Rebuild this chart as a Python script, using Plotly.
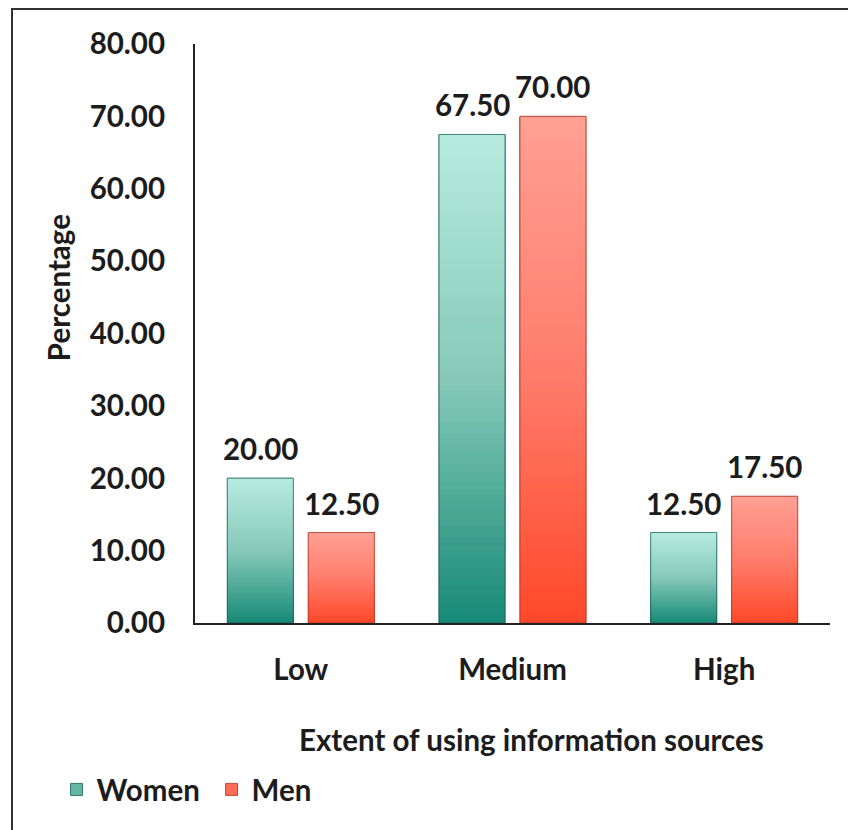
import plotly.graph_objects as go

# ---- data -------------------------------------------------------------
categories = ["Low", "Medium", "High"]
women = [20.00, 67.50, 12.50]
men = [12.50, 70.00, 17.50]
y_ticks = [0, 10, 20, 30, 40, 50, 60, 70, 80]
x_title = "Extent of using information sources"
y_title = "Percentage"

# ---- style ------------------------------------------------------------
FONT = "Lato"
TXT = "#1c1c1c"
FS = 29.5
BARGAP = 0.235
GROUPGAP = 0.185
N_SLICES = 80

# vertical gradient stops: (fraction of bar height, rgb)
WOMEN_STOPS = [(0.0, (23, 138, 118)), (0.5, (134, 201, 185)), (1.0, (183, 236, 224))]
MEN_STOPS = [(0.0, (255, 72, 42)), (0.5, (255, 125, 108)), (1.0, (255, 160, 148))]


def font(size=FS):
    return dict(family=FONT, size=size, color=TXT, weight="bold")


def color_at(f, stops):
    for (f0, c0), (f1, c1) in zip(stops[:-1], stops[1:]):
        if f <= f1:
            t = (f - f0) / (f1 - f0)
            r, g, b = (round(a + (b_ - a) * t) for a, b_ in zip(c0, c1))
            return f"rgb({r},{g},{b})"
    r, g, b = stops[-1][1]
    return f"rgb({r},{g},{b})"


def gradient_bar(values, stops, group):
    """Layered bar trace: each layer starts a little higher and runs to the
    bar's value, so together they shade the bar from bottom to top."""
    xs, bases, ys, cols = [], [], [], []
    for cat, v in zip(categories, values):
        step = v / N_SLICES
        for i in range(N_SLICES):
            xs.append(cat)
            bases.append(i * step)
            ys.append(v - i * step)
            cols.append(color_at((i + 0.5) / N_SLICES, stops))
    return go.Bar(x=xs, y=ys, base=bases, offsetgroup=group,
                  marker=dict(color=cols, line=dict(width=0)),
                  showlegend=False, hoverinfo="skip")


fig = go.Figure()

# solid base bars (also provide the legend entries)
fig.add_trace(go.Bar(x=categories, y=women, name="Women", offsetgroup="w",
                     marker=dict(color=color_at(0.35, WOMEN_STOPS),
                                 line=dict(color="rgba(20,90,78,0.8)", width=1))))
fig.add_trace(go.Bar(x=categories, y=men, name="Men", offsetgroup="m",
                     marker=dict(color=color_at(0.35, MEN_STOPS),
                                 line=dict(color="rgba(170,50,30,0.8)", width=1))))

# gradient fill
fig.add_trace(gradient_bar(women, WOMEN_STOPS, "w"))
fig.add_trace(gradient_bar(men, MEN_STOPS, "m"))

# thin darker outline on top of the gradient
fig.add_trace(go.Bar(x=categories, y=women, offsetgroup="w", showlegend=False,
                     hoverinfo="skip",
                     marker=dict(color="rgba(0,0,0,0)",
                                 line=dict(color="rgba(20,90,78,0.7)", width=1))))
fig.add_trace(go.Bar(x=categories, y=men, offsetgroup="m", showlegend=False,
                     hoverinfo="skip",
                     marker=dict(color="rgba(0,0,0,0)",
                                 line=dict(color="rgba(170,50,30,0.7)", width=1))))

# value labels above each bar
half = (1 - BARGAP) / 4
annotations = []
for i, (w, m) in enumerate(zip(women, men)):
    for dx, v in ((-half, w), (half, m)):
        annotations.append(dict(x=i + dx, y=v, xref="x", yref="y", text=f"{v:.2f}",
                                showarrow=False, yanchor="bottom", yshift=10,
                                font=font()))

# axis titles
annotations.append(dict(x=0.5307, y=-0.202, xref="paper", yref="paper", text=x_title,
                        showarrow=False, xanchor="center", yanchor="middle",
                        font=font()))
annotations.append(dict(x=-0.2158, y=0.58, xref="paper", yref="paper", text=y_title,
                        showarrow=False, textangle=-90, xanchor="center", yanchor="middle",
                        font=font()))

fig.update_layout(
    width=848, height=830,
    margin=dict(l=195, r=18, t=44, b=207),
    paper_bgcolor="white", plot_bgcolor="white",
    barmode="group", bargap=BARGAP, bargroupgap=GROUPGAP,
    font=font(),
    annotations=annotations,
    showlegend=True,
    legend=dict(orientation="h", x=-0.218, y=-0.288, xanchor="left", yanchor="middle",
                font=font(), itemwidth=30, entrywidth=110,
                bgcolor="rgba(0,0,0,0)"),
    shapes=[dict(type="rect", xref="paper", yref="paper",
                 x0=-0.2882, x1=1.2, y0=-0.4, y1=1.0604,
                 line=dict(color="#333333", width=2), fillcolor="rgba(0,0,0,0)",
                 layer="below")],
)

fig.update_yaxes(range=[0, 80], tickvals=y_ticks,
                 ticktext=[f"{t:.2f}" for t in y_ticks],
                 showgrid=False, zeroline=False, showline=True,
                 linecolor="#222222", linewidth=2, ticks="",
                 ticklabelstandoff=22, tickfont=font())
fig.update_xaxes(showgrid=False, zeroline=False, showline=True,
                 linecolor="#222222", linewidth=2, ticks="",
                 ticklabelstandoff=20, tickfont=font())

fig.write_html("out.html")
